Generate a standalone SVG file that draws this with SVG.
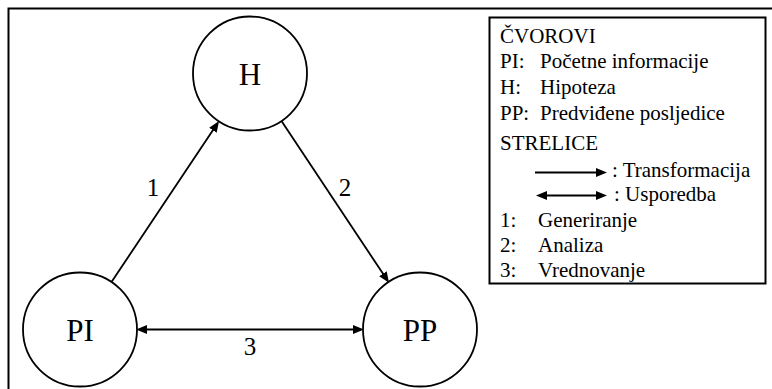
<svg xmlns="http://www.w3.org/2000/svg" width="772" height="389" viewBox="0 0 772 389">
<style>
.node{fill:#fff;stroke:#000;stroke-width:1.8}
.nl{font-size:31px;text-anchor:middle;fill:#000}
.el{font-size:25px;text-anchor:middle;fill:#000}
.lg{font-size:21px;fill:#000}
.edge{stroke:#000;stroke-width:1.8;fill:none}
</style>
<defs>
<marker id="ah" markerUnits="userSpaceOnUse" markerWidth="11" markerHeight="9" refX="5" refY="4.5" orient="auto-start-reverse" viewBox="0 0 11 9">
<path d="M0,0 L11,4.5 L0,9 z" fill="#000"/>
</marker>
</defs>
<rect width="772" height="389" fill="#fff"/>
<path d="M8.5,389 V8.5 H772" fill="none" stroke="#000" stroke-width="2"/>
<g font-family="Liberation Serif, Times New Roman, serif">
<g id="connectors">
<line class="edge" x1="111.5" y1="282" x2="215.7" y2="126.1" marker-end="url(#ah)"/>
<line class="edge" x1="281.5" y1="121" x2="385.7" y2="277.8" marker-end="url(#ah)"/>
<line class="edge" x1="142" y1="329.5" x2="358" y2="329.5" marker-start="url(#ah)" marker-end="url(#ah)"/>
<text class="el" x="153" y="196">1</text>
<text class="el" x="345" y="196">2</text>
<text class="el" x="250" y="355">3</text>
</g>
<g id="node-H">
<circle class="node" cx="250" cy="73.5" r="57"/>
<text class="nl" x="250" y="85">H</text>
</g>
<g id="node-PI">
<circle class="node" cx="80" cy="329.5" r="57"/>
<text class="nl" x="80" y="341">PI</text>
</g>
<g id="node-PP">
<circle class="node" cx="420" cy="329.5" r="57"/>
<text class="nl" x="420" y="341">PP</text>
</g>
<g id="legend">
<rect x="489.5" y="17.5" width="276" height="266" fill="#fff" stroke="#000" stroke-width="2"/>
<text class="lg" x="500" y="43">ČVOROVI</text>
<text class="lg" x="500" y="68">PI:</text><text class="lg" x="540" y="68">Početne informacije</text>
<text class="lg" x="500" y="94">H:</text><text class="lg" x="540" y="94">Hipoteza</text>
<text class="lg" x="500" y="120">PP:</text><text class="lg" x="540" y="120">Predviđene posljedice</text>
<text class="lg" x="500" y="150">STRELICE</text>
<line class="edge" x1="535" y1="172.5" x2="601" y2="172.5" marker-end="url(#ah)"/>
<text class="lg" x="612" y="177">: Transformacija</text>
<line class="edge" x1="542" y1="195.5" x2="601" y2="195.5" marker-start="url(#ah)" marker-end="url(#ah)"/>
<text class="lg" x="614" y="201">: Usporedba</text>
<text class="lg" x="500" y="227">1:</text><text class="lg" x="538" y="227">Generiranje</text>
<text class="lg" x="500" y="252">2:</text><text class="lg" x="538" y="252">Analiza</text>
<text class="lg" x="500" y="277">3:</text><text class="lg" x="538" y="277">Vrednovanje</text>
</g>
</g>
</svg>
